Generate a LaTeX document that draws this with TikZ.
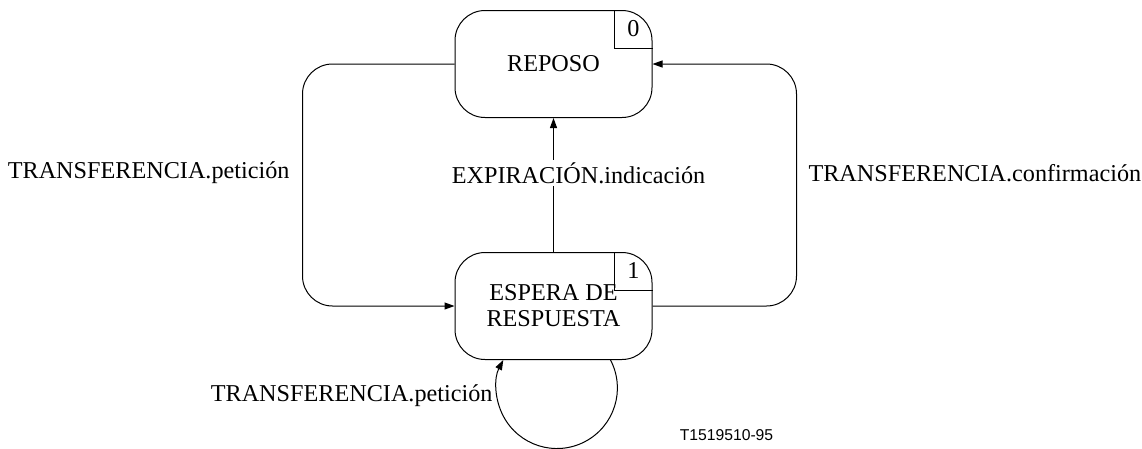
\documentclass[tikz,border=0pt]{standalone}
\usepackage{fontspec}
\setmainfont{Liberation Serif}
\newfontfamily\figsans{Liberation Sans}
\usetikzlibrary{arrows.meta,positioning}

\begin{document}
\begin{tikzpicture}[
    x=1pt, y=-1pt,
    line width=1pt,
    font=\fontsize{24.2}{26}\selectfont,
    statebox/.style={draw, rounded corners=30pt, align=center, minimum width=197pt, minimum height=107pt, inner sep=0pt},
    lbl/.style={inner sep=0pt},
    >={Triangle[length=10pt,width=7pt]}]
    \useasboundingbox (0,0) rectangle (1142,448);
    \node[statebox] (rest) at (553.5,64) {REPOSO};
    \node[statebox] (wait) at (553.5,306) {ESPERA DE\\RESPUESTA};
    % number corners
    \draw (rest.north east) ++(-38,0) -- ++(0,38) -- ++(38,0);
    \node[lbl] (restnum) at ([shift={(-19,19)}]rest.north east) {0};
    \draw (wait.north east) ++(-38,0) -- ++(0,38) -- ++(38,0);
    \node[lbl] (waitnum) at ([shift={(-19,19)}]wait.north east) {1};
    % transitions
    \draw[->, rounded corners=30pt] (rest.west) -- ++(-152,0) |- (wait.west);
    \draw[->, rounded corners=30pt] (wait.east) -- ++(144,0) |- (rest.east);
    \draw[->] (wait.north) -- node[pos=0.59, xshift=25pt, fill=white, inner sep=2pt] (timeout) {EXPIRACIÓN.indicación} (rest.south);
    \draw[->] ([xshift=57pt]wait.south) arc[start angle=27.6, end angle=-207.6, radius=60.5pt];
    \node[lbl, anchor=east] (reqlbl) at (290,173) {TRANSFERENCIA.petición};
    \node[lbl, anchor=west] (cnflbl) at (808,173) {TRANSFERENCIA.confirmación};
    \node[lbl, anchor=east] (looplbl) at (493,396) {TRANSFERENCIA.petición};
    \node[lbl, font=\figsans\fontsize{15.7}{18}\selectfont] (fignum) at (726.5,435) {T1519510-95};
\end{tikzpicture}
\end{document}
